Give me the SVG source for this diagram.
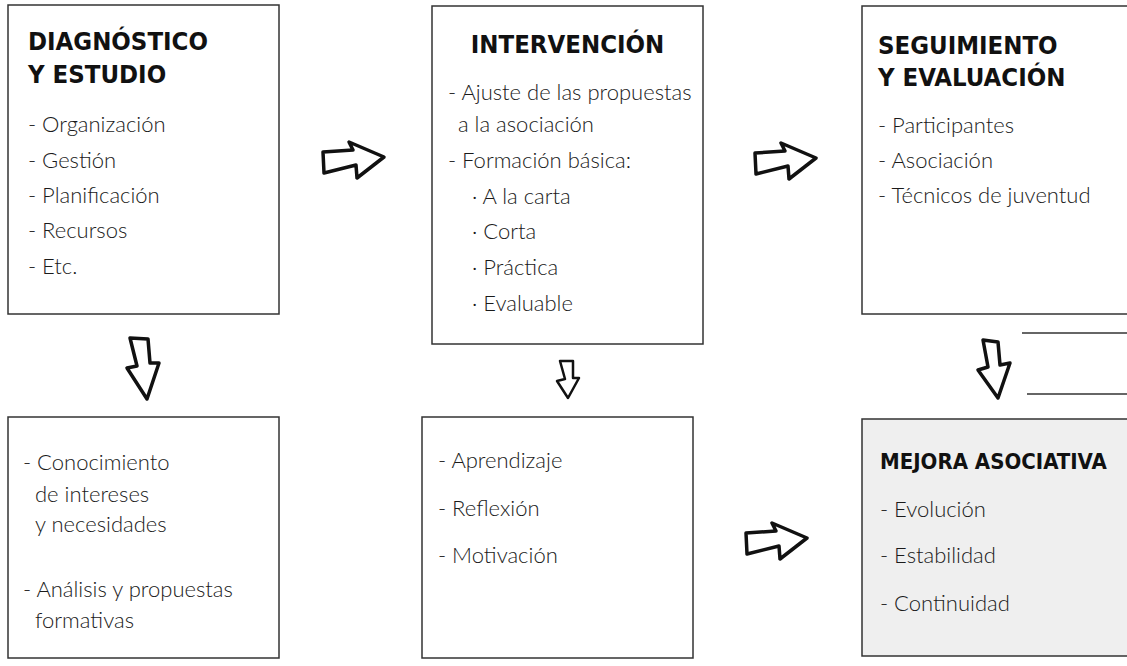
<svg xmlns="http://www.w3.org/2000/svg" width="1127" height="666" viewBox="0 0 1127 666">
<style>
.box{fill:#fff;stroke:#333;stroke-width:1.5}
.grey{fill:#efefef}
.h{font-family:"DejaVu Sans",sans-serif;font-weight:bold;font-stretch:condensed;font-size:25.5px;fill:#111}
.t{font-family:"Lato","Open Sans",sans-serif;font-weight:300;font-size:22px;fill:#1a1a1a}
.arr{fill:#fff;stroke:#111;stroke-width:3.5;stroke-linejoin:round}
.ln{stroke:#333;stroke-width:1.5}
</style>
<defs>
<path id="ra" d="M323,152 L353,150 L349,142 L384,157 L357,178 L356,165 L324,173 Z"/>
</defs>
<rect width="1127" height="666" fill="#fff"/>
<g id="n1">
<rect class="box" x="8" y="5" width="271" height="309"/>
<text class="h" x="28" y="50">DIAGNÓSTICO</text>
<text class="h" x="28" y="83">Y ESTUDIO</text>
<text class="t" x="28" y="132">- Organización</text>
<text class="t" x="28" y="168">- Gestión</text>
<text class="t" x="28" y="203">- Planificación</text>
<text class="t" x="28" y="238">- Recursos</text>
<text class="t" x="28" y="274">- Etc.</text>
</g>
<g id="n2">
<rect class="box" x="432" y="6" width="271" height="338"/>
<text class="h" x="567.5" y="53" text-anchor="middle">INTERVENCIÓN</text>
<text class="t" x="448" y="100">- Ajuste de las propuestas</text>
<text class="t" x="458" y="132">a la asociación</text>
<text class="t" x="448" y="168">- Formación básica:</text>
<text class="t" x="472" y="204">· A la carta</text>
<text class="t" x="472" y="239">· Corta</text>
<text class="t" x="472" y="275">· Práctica</text>
<text class="t" x="472" y="311">· Evaluable</text>
</g>
<g id="n3">
<rect class="box" x="862" y="6" width="280" height="308"/>
<text class="h" x="878" y="54">SEGUIMIENTO</text>
<text class="h" x="878" y="86">Y EVALUACIÓN</text>
<text class="t" x="878" y="133">- Participantes</text>
<text class="t" x="878" y="168">- Asociación</text>
<text class="t" x="878" y="203">- Técnicos de juventud</text>
</g>
<g id="n4">
<rect class="box" x="8" y="417" width="271" height="241"/>
<text class="t" x="23" y="470">- Conocimiento</text>
<text class="t" x="35" y="502">de intereses</text>
<text class="t" x="35" y="532">y necesidades</text>
<text class="t" x="23" y="597">- Análisis y propuestas</text>
<text class="t" x="35" y="628">formativas</text>
</g>
<g id="n5">
<rect class="box" x="422" y="417" width="271" height="241"/>
<text class="t" x="438" y="468">- Aprendizaje</text>
<text class="t" x="438" y="516">- Reflexión</text>
<text class="t" x="438" y="563">- Motivación</text>
</g>
<g id="n6">
<rect class="box grey" x="862" y="419" width="280" height="237"/>
<text class="h" x="880" y="469" style="font-size:22px">MEJORA ASOCIATIVA</text>
<text class="t" x="880" y="517">- Evolución</text>
<text class="t" x="880" y="563">- Estabilidad</text>
<text class="t" x="880" y="611">- Continuidad</text>
</g>
<g id="connectors">
<use href="#ra" class="arr"/>
<use href="#ra" class="arr" transform="translate(432,1)"/>
<use href="#ra" class="arr" transform="translate(423,381)"/>
<path class="arr" d="M130,338 L148,339 L150,363 L159,363 L147,399 L127,368 L137,366 Z"/>
<path class="arr" style="stroke-width:2.5" d="M560,361 L573,361 L573,378 L579,378 L568,398 L557,381 L565,379 Z"/>
<path class="arr" d="M983,340 L998,342 L1000,365 L1010,363 L998,398 L978,370 L988,367 Z"/>
<line class="ln" x1="1022" y1="333" x2="1127" y2="333"/>
<line class="ln" x1="1027" y1="394" x2="1127" y2="394"/>
</g>
</svg>
